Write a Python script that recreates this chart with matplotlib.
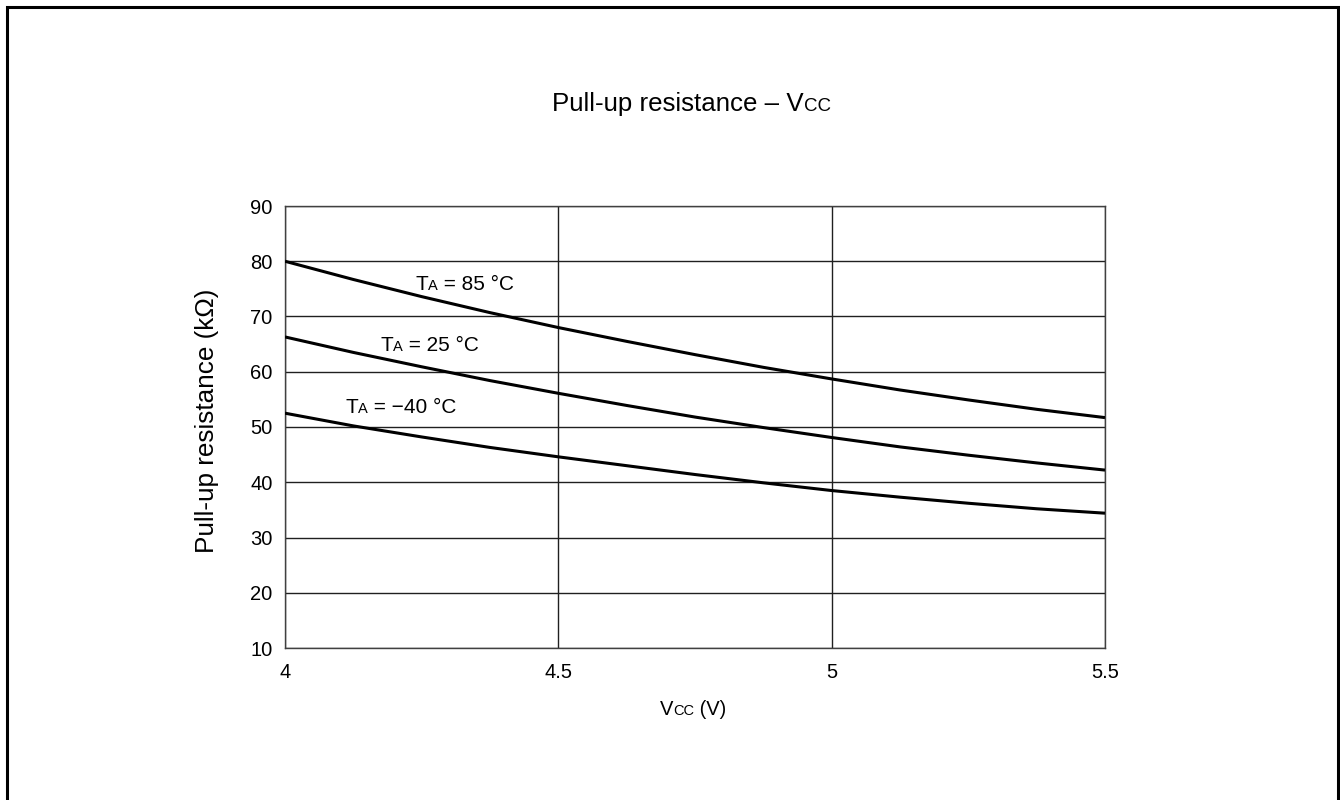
import matplotlib
matplotlib.use('Agg')
import matplotlib.pyplot as plt
from matplotlib.patches import Rectangle

plt.rcParams['font.family'] = ['Liberation Sans', 'DejaVu Sans']

# Data
vcc = [4.0, 4.125, 4.25, 4.375, 4.5, 4.625, 4.75, 4.875, 5.0, 5.125, 5.25, 5.375, 5.5]
r_85 = [80.0, 76.7, 73.6, 70.7, 68.0, 65.5, 63.1, 60.8, 58.7, 56.7, 54.9, 53.2, 51.7]
r_25 = [66.3, 63.5, 60.9, 58.4, 56.1, 53.9, 51.8, 49.9, 48.1, 46.4, 44.9, 43.5, 42.2]
r_m40 = [52.5, 50.2, 48.2, 46.3, 44.6, 43.0, 41.4, 39.9, 38.5, 37.3, 36.2, 35.2, 34.4]

curve_labels = [' = 85 °C', ' = 25 °C', ' = \u221240 °C']
label_pos = [(4.238, 74.8), (4.174, 63.8), (4.110, 52.5)]

x_ticks = [4, 4.5, 5, 5.5]
x_ticklabels = ['4', '4.5', '5', '5.5']
y_ticks = [10, 20, 30, 40, 50, 60, 70, 80, 90]

W, H = 1340, 800
fig = plt.figure(figsize=(W / 100, H / 100), dpi=100)
ax = fig.add_axes([285 / W, 1 - 648 / H, 820 / W, 442 / H])

for r in (r_85, r_25, r_m40):
    ax.plot(vcc, r, color='black', linewidth=2.2, solid_capstyle='butt', zorder=3)

ax.set_xlim(4, 5.5)
ax.set_ylim(10, 90)
ax.set_xticks(x_ticks)
ax.set_xticklabels(x_ticklabels)
ax.set_yticks(y_ticks)
ax.tick_params(length=0, labelsize=14.5)
ax.tick_params(axis='y', pad=9)
ax.tick_params(axis='x', pad=11)
ax.grid(True, color='#202020', linewidth=1.0)
for s in ax.spines.values():
    s.set_color('#404040')
    s.set_linewidth(1.0)

ax.set_ylabel('Pull-up resistance (k\u03a9)', fontsize=18.8)
ax.yaxis.set_label_coords(-0.081, 0.515)


def sub_text(x, y, parts, coords, fontsizes, ha_first='left'):
    # chain text pieces on a common baseline
    t = ax.annotate(parts[0], xy=(x, y), xycoords=coords, fontsize=fontsizes[0],
                    va='baseline', ha=ha_first)
    prev = t
    for p, fs in zip(parts[1:], fontsizes[1:]):
        prev = ax.annotate(p, xy=(1, y), xycoords=(prev, coords), fontsize=fs,
                           va='baseline', ha='left')
    return t


for lbl, (lx, ly) in zip(curve_labels, label_pos):
    sub_text(lx, ly, ['T', 'A', lbl], 'data', [15, 10.5, 15])

# x label: Vcc (V)
sub_text(660 / W, 1 - 715 / H, ['V', 'CC', ' (V)'], 'figure fraction', [14.5, 10.5, 14.5])

# title: Pull-up resistance - Vcc
sub_text(552 / W, 1 - 111 / H, ['Pull-up resistance \u2013 V', 'CC'], 'figure fraction', [18.6, 13.5])

fig.patches.append(Rectangle((7 / W, -0.05), 1331 / W, 1.05 - 7 / H, transform=fig.transFigure,
                             fill=False, edgecolor='black', linewidth=2.2))

fig.savefig('out.png', dpi=100)
